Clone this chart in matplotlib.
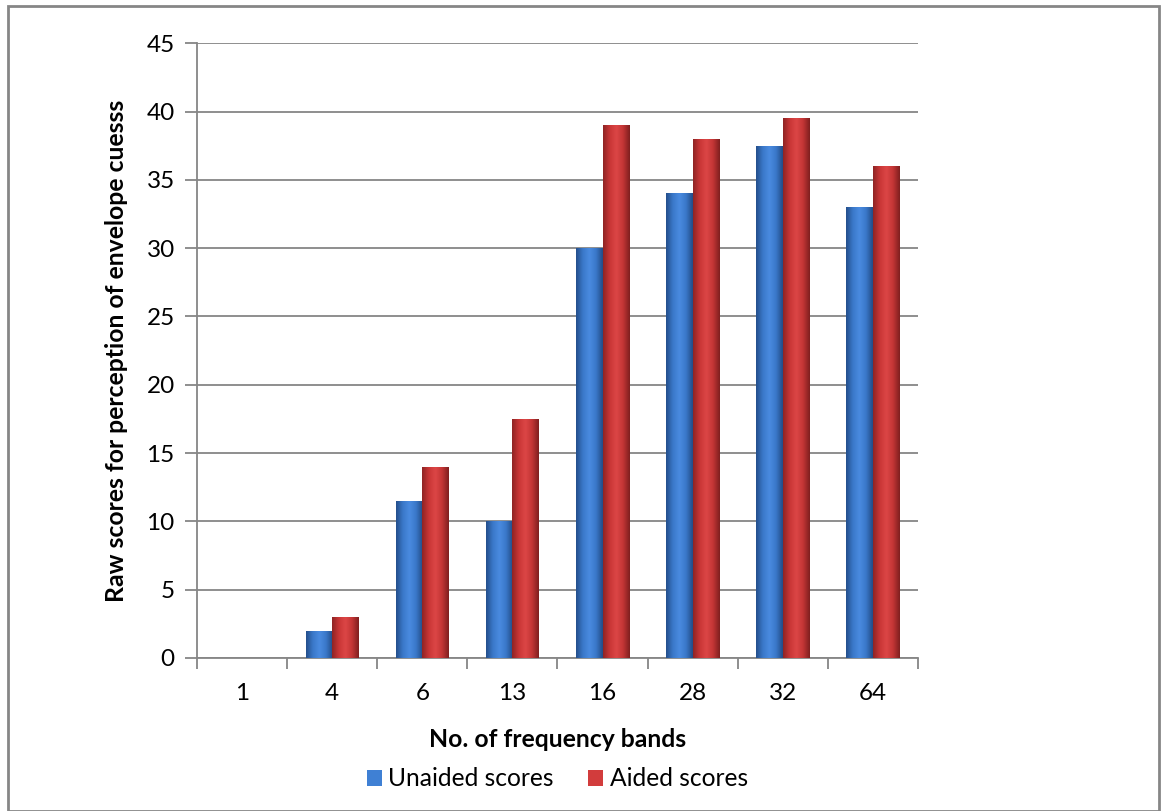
import matplotlib

matplotlib.use("Agg")
import matplotlib.pyplot as plt
import numpy as np
from matplotlib.colors import LinearSegmentedColormap
from matplotlib.patches import Rectangle

plt.rcParams["font.family"] = ["Lato", "DejaVu Sans"]

# --- data ---
bands = ["1", "4", "6", "13", "16", "28", "32", "64"]
unaided = [0, 2, 11.5, 10, 30, 34, 37.5, 33]
aided = [0, 3, 14, 17.5, 39, 38, 39.5, 36]

grey = "#868686"
blue_cmap = LinearSegmentedColormap.from_list(
    "blue", ["#244f8c", "#3a78c9", "#4a8be0", "#3a78c9", "#234c86"]
)
red_cmap = LinearSegmentedColormap.from_list(
    "red", ["#8f2424", "#c93636", "#dc4646", "#c33535", "#7f1f1f"]
)

fig = plt.figure(figsize=(11.62, 8.11), dpi=100)
ax = fig.add_axes([0.1695, 0.1887, 0.6205, 0.758])

x = np.arange(len(bands))
width = 0.295
bars_u = ax.bar(x - width / 2, unaided, width, color="#3f80d4", zorder=3)
bars_a = ax.bar(x + width / 2, aided, width, color="#d23c3c", zorder=3)

# horizontal shading on each bar, clipped to the bar shape
grad = np.linspace(0, 1, 64).reshape(1, -1)
for bars, cmap in ((bars_u, blue_cmap), (bars_a, red_cmap)):
    for b in bars:
        h = b.get_height()
        if h <= 0:
            continue
        x0 = b.get_x()
        im = ax.imshow(
            grad,
            cmap=cmap,
            aspect="auto",
            extent=(x0, x0 + b.get_width(), 0, h),
            zorder=4,
            interpolation="bicubic",
        )
        im.set_clip_path(b)

ax.set_xlim(-0.5, len(bands) - 0.5)
ax.set_ylim(0, 45)
ax.set_yticks(range(0, 46, 5))
ax.set_xticks(x)
ax.set_xticklabels(bands)
ax.set_xticks(np.arange(-0.5, len(bands)), minor=True)

ax.grid(axis="y", color=grey, linewidth=1.3, zorder=0)
ax.set_axisbelow(True)
for side in ("top", "right"):
    ax.spines[side].set_visible(False)
for side in ("left", "bottom"):
    ax.spines[side].set_color(grey)
    ax.spines[side].set_linewidth(1.3)

ax.tick_params(axis="y", length=9, width=1.3, color=grey, labelsize=17.5, pad=7)
ax.tick_params(axis="x", which="major", length=0, labelsize=17.5, pad=18)
ax.tick_params(axis="x", which="minor", length=8, width=1.3, color=grey)

ax.set_xlabel("No. of frequency bands", fontsize=17.8, fontweight="bold", labelpad=17)
ax.set_ylabel(
    "Raw scores for perception of envelope cuesss",
    fontsize=17.8,
    fontweight="bold",
    labelpad=13,
)

ax.legend(
    [bars_u, bars_a],
    ["Unaided scores", "Aided scores"],
    loc="upper center",
    bbox_to_anchor=(0.5, -0.142),
    ncol=2,
    frameon=False,
    fontsize=17.7,
    handlelength=0.6,
    handleheight=0.6,
    handletextpad=0.28,
    columnspacing=1.4,
)

# chart-area border
fig.patches.append(
    Rectangle(
        (0.0065, 0.0), 0.991, 0.992,
        transform=fig.transFigure, fill=False, edgecolor=grey, linewidth=2,
    )
)

fig.savefig("out.png", dpi=100)
